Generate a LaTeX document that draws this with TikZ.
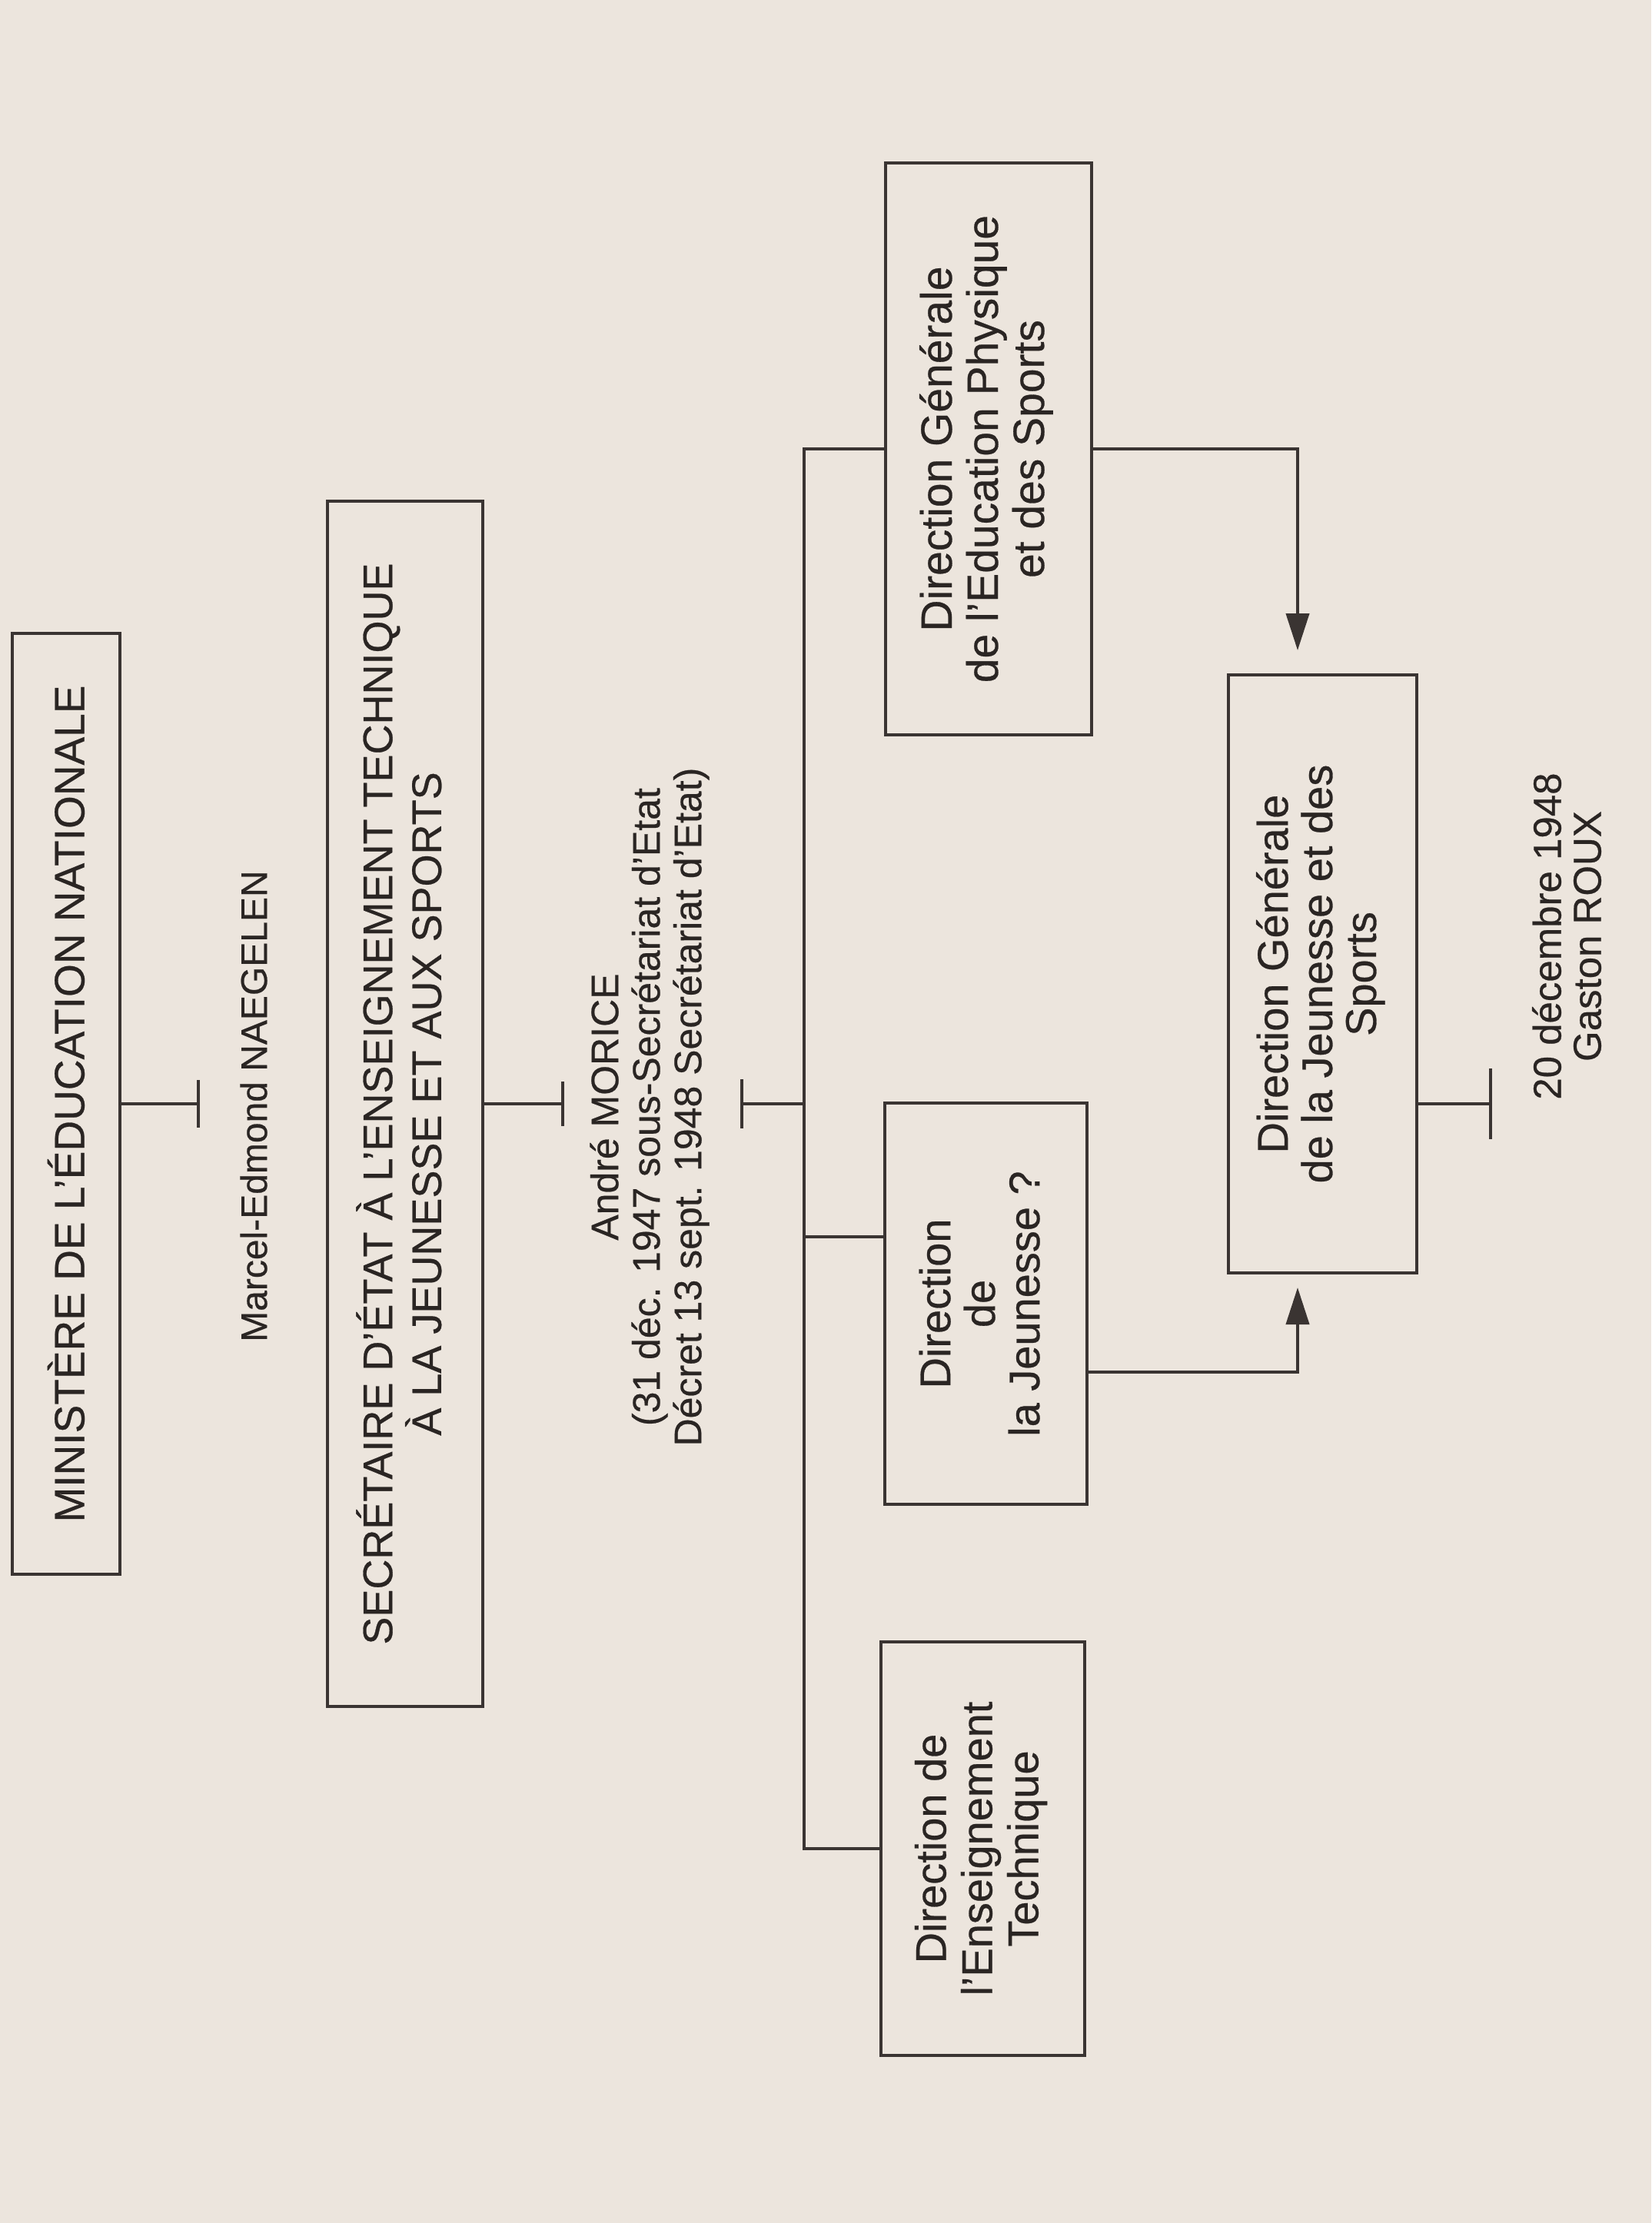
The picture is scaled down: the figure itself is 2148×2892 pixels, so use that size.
\documentclass[tikz,border=0pt]{standalone}
\usepackage{fontspec}
\setmainfont{Liberation Sans}[FakeBold=0.5]
\usetikzlibrary{arrows.meta}
\definecolor{paper}{RGB}{236,229,221}
\definecolor{ink}{RGB}{58,52,50}
\definecolor{textink}{RGB}{42,37,35}
\tikzset{
  boxnode/.style={draw=ink, line width=4.5pt, inner sep=0pt, text=textink, align=center},
  conn/.style={draw=ink, line width=4pt},
  arr/.style={conn, -{Triangle[length=48pt,width=30pt]}},
  lbl/.style={rotate=90, align=center, text=textink, inner sep=0pt},
}
\begin{document}
\begin{tikzpicture}[x=1pt,y=-1pt]
\fill[paper] (0,0) rectangle (2148,2892);
\useasboundingbox (0,0) rectangle (2148,2892);

% boxes
\node[boxnode, minimum width=140pt, minimum height=1224pt] (min) at (86,1436)
  {\rotatebox{90}{\fontsize{55}{60}\selectfont MINISTÈRE DE L’ÉDUCATION NATIONALE}};
\node[boxnode, minimum width=202pt, minimum height=1568pt] (sec) at (527,1436)
  {\rotatebox{90}{\fontsize{54}{56}\selectfont\begin{tabular}{@{}c@{}}SECRÉTAIRE D’ÉTAT À L’ENSEIGNEMENT TECHNIQUE\\À LA JEUNESSE ET AUX SPORTS\end{tabular}}};
\node[boxnode, minimum width=268pt, minimum height=744pt] (dgeps) at (1286,584)
  {\rotatebox{90}{\fontsize{57}{60}\selectfont\begin{tabular}{@{}c@{}}Direction Générale\\de l’Education Physique\\et des Sports\end{tabular}}};
\node[boxnode, minimum width=263pt, minimum height=522pt] (jeun) at (1282.5,1696)
  {\rotatebox{90}{\fontsize{56}{58}\selectfont\begin{tabular}{@{}c@{}}Direction\\de\\la Jeunesse ?\end{tabular}}};
\node[boxnode, minimum width=265pt, minimum height=538pt] (ens) at (1278.5,2405)
  {\rotatebox{90}{\fontsize{56}{60}\selectfont\begin{tabular}{@{}c@{}}Direction de\\l’Enseignement\\Technique\end{tabular}}};
\node[boxnode, minimum width=245pt, minimum height=778pt] (dgjs) at (1720.5,1267)
  {\rotatebox{90}{\fontsize{56}{57}\selectfont\begin{tabular}{@{}c@{}}Direction Générale\\de la Jeunesse et des\\Sports\end{tabular}}};

% free labels
\node[lbl, font=\fontsize{48}{52}\selectfont] (naeg) at (330,1439) {Marcel-Edmond NAEGELEN};
\node[lbl, font=\fontsize{50}{54}\selectfont] (mor) at (845,1440)
  {André MORICE\\(31 déc. 1947 sous-Secrétariat d’Etat\\Décret 13 sept. 1948 Secrétariat d’Etat)};
\node[lbl, font=\fontsize{51}{52}\selectfont] (roux) at (2038,1218) {20 décembre 1948\\Gaston ROUX};

% T connectors
\coordinate (t1) at (258,1436);
\draw[conn] (min.east) -- (t1);
\draw[conn] ([yshift=31pt]t1) -- ([yshift=-31pt]t1);

\coordinate (t2) at (732,1436);
\draw[conn] (sec.east) -- (t2);
\draw[conn] ([yshift=29pt]t2) -- ([yshift=-29pt]t2);

\coordinate (t3) at (965,1436);
\coordinate (jn) at (1046,1436);
\draw[conn] (t3) -- (jn);
\draw[conn] ([yshift=32pt]t3) -- ([yshift=-32pt]t3);

% trunk and branches
\coordinate (ktop) at (1046,584);
\coordinate (kmid) at (1046,1609);
\coordinate (kbot) at (1046,2405);
\draw[conn] (dgeps.west) -- (ktop) -- (kbot) -- (ens.west);
\draw[conn] (kmid) -- (kmid -| jeun.west);

% arrows to the merged direction
\coordinate (a1) at (1688,846);
\draw[arr] (dgeps.east) -| (a1);
\coordinate (jy) at (0,1785);
\coordinate (a2) at (1688,1675);
\draw[arr] (jeun.east |- jy) -| (a2);

% last T
\coordinate (t4) at (1939,1436);
\draw[conn] (t4 -| dgjs.east) -- (t4);
\draw[conn] ([yshift=46pt]t4) -- ([yshift=-46pt]t4);
\end{tikzpicture}
\end{document}
